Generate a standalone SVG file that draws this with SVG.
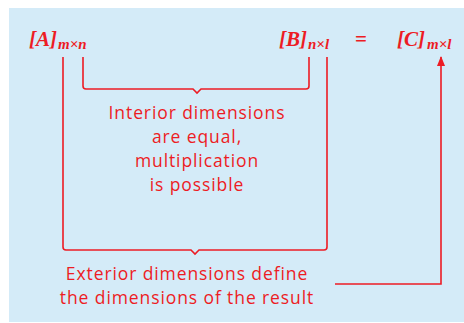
<svg xmlns="http://www.w3.org/2000/svg" width="464" height="323" viewBox="0 0 464 323">
<style>
.m{font-family:"Liberation Serif",serif;font-weight:bold;font-style:italic;fill:#ed1c24}
.big{font-size:21px}
.sub{font-size:15px}
.t{font-family:"Open Sans","Liberation Sans",sans-serif;font-size:17.5px;letter-spacing:0.9px;fill:#ed1c24;text-anchor:middle}
.ln{fill:none;stroke:#ed1c24;stroke-width:1.6}
</style>
<defs>
<marker id="ah" markerWidth="10" markerHeight="8" refX="9" refY="4" orient="auto" markerUnits="userSpaceOnUse" viewBox="0 0 10 8">
<path d="M0,0 L10,4 L0,8 Z" fill="#ed1c24"/>
</marker>
</defs>
<rect x="9" y="8" width="455" height="314" fill="#d4ebf8"/>
<g id="A"><text class="m big" x="29" y="46">[A]</text><text class="m sub" x="58" y="49">m×n</text></g>
<g id="B"><text class="m big" x="279" y="46">[B]</text><text class="m sub" x="308" y="49">n×l</text></g>
<g id="eq"><text class="m big" x="355" y="46" style="font-style:normal">=</text></g>
<g id="C"><text class="m big" x="397" y="46">[C]</text><text class="m sub" x="427" y="49">m×l</text></g>
<g id="interior"><text class="t" x="197" y="119">Interior dimensions</text><text class="t" x="197" y="143">are equal,</text><text class="t" x="197" y="167">multiplication</text><text class="t" x="197" y="191">is possible</text></g>
<g id="exterior"><text class="t" x="187" y="280">Exterior dimensions define</text><text class="t" x="187" y="304">the dimensions of the result</text></g>
<g id="connectors">
<path class="ln" d="M83,57 V86 Q83,89 86,89 H193 L197,93 L201,89 H306 Q309,89 309,86 V57"/>
<path class="ln" d="M63,57 V247 Q63,250 66,250 H191 L195,254 L199,250 H324 Q327,250 327,247 V57"/>
<path class="ln" d="M335,284 H441 V57" marker-end="url(#ah)"/>
</g>
</svg>
